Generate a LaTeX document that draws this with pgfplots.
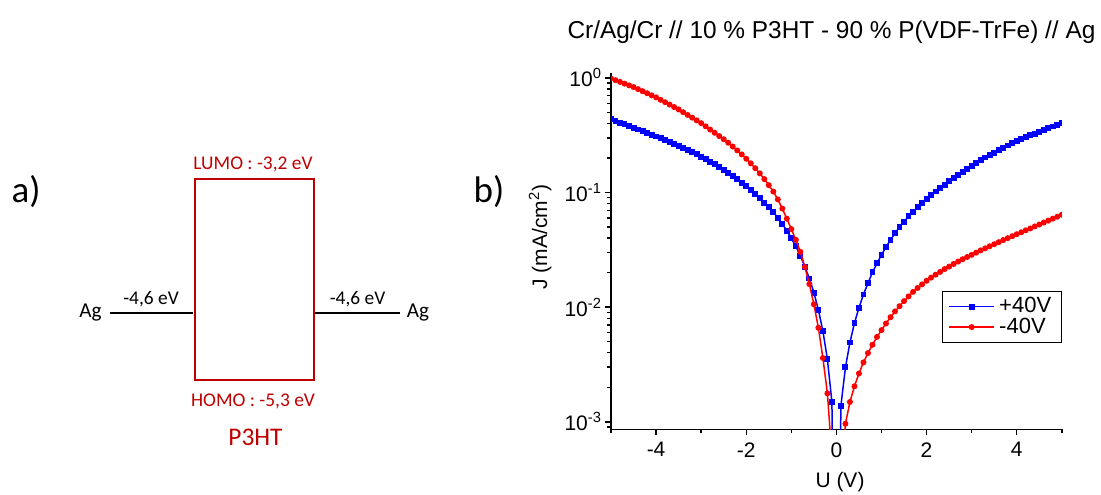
\documentclass[border=0pt]{standalone}
\usepackage{fontspec}
\setmainfont{Liberation Sans}
\newfontfamily\calibri{Carlito}
\usepackage{pgfplots}
\usepackage{pgfplotstable}
\pgfplotsset{compat=1.18}
\definecolor{darkred}{RGB}{192,0,0}

\pgfplotstableread{
x y
-5.0 0.437
-4.9 0.422
-4.8 0.407
-4.7 0.394
-4.6 0.380
-4.5 0.367
-4.4 0.355
-4.3 0.343
-4.2 0.331
-4.1 0.319
-4.0 0.308
-3.9 0.297
-3.8 0.286
-3.7 0.275
-3.6 0.265
-3.5 0.255
-3.4 0.245
-3.3 0.235
-3.2 0.225
-3.1 0.215
-3.0 0.205
-2.9 0.195
-2.8 0.186
-2.7 0.176
-2.6 0.167
-2.5 0.158
-2.4 0.149
-2.3 0.140
-2.2 0.131
-2.1 0.122
-2.0 0.114
-1.9 0.105
-1.8 0.0971
-1.7 0.0891
-1.6 0.0817
-1.5 0.0745
-1.4 0.0675
-1.3 0.0603
-1.2 0.0533
-1.1 0.0465
-1.0 0.0400
-0.9 0.0339
-0.8 0.0281
-0.7 0.0226
-0.6 0.0178
-0.5 0.0134
-0.4 0.00948
-0.3 0.00619
-0.2 0.00352
-0.1 0.00149
0.0 0.000001
0.1 0.00138
0.2 0.00298
0.3 0.00492
0.4 0.00726
0.5 0.00989
0.6 0.0129
0.7 0.0162
0.8 0.0201
0.9 0.0242
1.0 0.0286
1.1 0.0334
1.2 0.0386
1.3 0.0442
1.4 0.0499
1.5 0.0558
1.6 0.0619
1.7 0.0682
1.8 0.0746
1.9 0.0811
2.0 0.0877
2.1 0.0944
2.2 0.102
2.3 0.109
2.4 0.117
2.5 0.125
2.6 0.134
2.7 0.143
2.8 0.152
2.9 0.161
3.0 0.171
3.1 0.182
3.2 0.192
3.3 0.202
3.4 0.213
3.5 0.223
3.6 0.234
3.7 0.245
3.8 0.257
3.9 0.269
4.0 0.280
4.1 0.291
4.2 0.303
4.3 0.315
4.4 0.327
4.5 0.339
4.6 0.352
4.7 0.364
4.8 0.377
4.9 0.390
5.0 0.403
}\plus

\pgfplotstableread{
x y
-5.0 0.989
-4.9 0.955
-4.8 0.923
-4.7 0.891
-4.6 0.861
-4.5 0.832
-4.4 0.798
-4.3 0.766
-4.2 0.735
-4.1 0.705
-4.0 0.676
-3.9 0.644
-3.8 0.614
-3.7 0.585
-3.6 0.557
-3.5 0.531
-3.4 0.502
-3.3 0.475
-3.2 0.450
-3.1 0.426
-3.0 0.403
-2.9 0.378
-2.8 0.354
-2.7 0.332
-2.6 0.311
-2.5 0.292
-2.4 0.272
-2.3 0.252
-2.2 0.233
-2.1 0.215
-2.0 0.197
-1.9 0.180
-1.8 0.163
-1.7 0.147
-1.6 0.131
-1.5 0.116
-1.4 0.102
-1.3 0.0871
-1.2 0.0724
-1.1 0.0592
-1.0 0.0480
-0.9 0.0387
-0.8 0.0304
-0.7 0.0224
-0.6 0.0159
-0.5 0.0106
-0.4 0.00661
-0.3 0.00360
-0.2 0.00177
-0.1 0.0005
0.0 0.00003
0.1 0.00025
0.2 0.000962
0.3 0.00149
0.4 0.00204
0.5 0.00264
0.6 0.00330
0.7 0.00398
0.8 0.00470
0.9 0.00550
1.0 0.00631
1.1 0.00721
1.2 0.00817
1.3 0.00918
1.4 0.0102
1.5 0.0113
1.6 0.0124
1.7 0.0136
1.8 0.0147
1.9 0.0158
2.0 0.0170
2.1 0.0181
2.2 0.0192
2.3 0.0203
2.4 0.0215
2.5 0.0226
2.6 0.0238
2.7 0.0250
2.8 0.0262
2.9 0.0274
3.0 0.0286
3.1 0.0299
3.2 0.0313
3.3 0.0326
3.4 0.0340
3.5 0.0354
3.6 0.0369
3.7 0.0385
3.8 0.0400
3.9 0.0416
4.0 0.0433
4.1 0.0450
4.2 0.0468
4.3 0.0486
4.4 0.0506
4.5 0.0526
4.6 0.0547
4.7 0.0569
4.8 0.0592
4.9 0.0615
5.0 0.0640
}\minus

\begin{document}
\begin{tikzpicture}
\useasboundingbox (0pt,0pt) rectangle (550.5pt,247pt);
% ---- a) energy diagram (pixel coordinates) ----
\begin{axis}[at={(0pt,0pt)}, anchor=south west, scale only axis,
  width=250pt, height=247pt, xmin=0, xmax=500, ymin=0, ymax=494,
  y dir=reverse, hide axis, clip=false]
\addplot[black, line width=1.2pt] coordinates {(110,313) (193,313)};
\addplot[black, line width=1.2pt] coordinates {(315,313) (400,313)};
\addplot[darkred, line width=1pt, line join=miter, line cap=rect] coordinates {(195,179.3) (314,179.3) (314,380) (195,380) (195,179.3)};
\node[font=\calibri\fontsize{9.7}{11}\selectfont, text=darkred] at (axis cs:253,164) {LUMO : -3,2 eV};
\node[font=\calibri\fontsize{9.7}{11}\selectfont, text=darkred] at (axis cs:253,401) {HOMO : -5,3 eV};
\node[font=\calibri\fontsize{12.7}{14}\selectfont, text=darkred] at (axis cs:255.5,437) {P3HT};
\node[font=\calibri\fontsize{9.7}{11}\selectfont] at (axis cs:151,299) {-4,6 eV};
\node[font=\calibri\fontsize{9.7}{11}\selectfont] at (axis cs:357.5,299) {-4,6 eV};
\node[font=\calibri\fontsize{10.6}{12}\selectfont] at (axis cs:90.5,313) {Ag};
\node[font=\calibri\fontsize{10.6}{12}\selectfont] at (axis cs:418,313) {Ag};
\node[font=\calibri\fontsize{18.5}{20}\selectfont] at (axis cs:26,192) {a)};
\node[font=\calibri\fontsize{18.5}{20}\selectfont] at (axis cs:489,192) {b)};
\end{axis}
% ---- b) J-U curves ----
\begin{axis}[at={(305.5pt,32.35pt)}, anchor=south west, scale only axis,
  width=225.4pt, height=178.3pt,
  xmin=-5, xmax=5, ymode=log, ymin=8.6e-4, ymax=1.11,
  axis x line*=bottom, axis y line*=left,
  axis line style={line width=0.8pt, -},
  tick align=outside,
  major tick length=3pt, minor tick length=2pt,
  every tick/.style={black, line width=0.7pt},
  xtick={-4,-2,0,2,4}, xticklabels={-4,-2,0,2,4},
  minor xtick={-5,-3,-1,1,3,5},
  ytick={0.001,0.01,0.1,1},
  yticklabels={10\textsuperscript{-3},10\textsuperscript{-2},10\textsuperscript{-1},10\textsuperscript{0}},
  minor ytick={9e-4,2e-3,3e-3,4e-3,5e-3,6e-3,7e-3,8e-3,9e-3,2e-2,3e-2,4e-2,5e-2,6e-2,7e-2,8e-2,9e-2,2e-1,3e-1,4e-1,5e-1,6e-1,7e-1,8e-1,9e-1},
  tick label style={font=\fontsize{10.5}{12}\selectfont},
  yticklabel style={xshift=2pt},
  xlabel={U (V)}, ylabel={J (mA/cm\textsuperscript{2})},
  label style={font=\fontsize{10.5}{12}\selectfont},
  xlabel style={at={(axis description cs:0.508,-0.148)}, anchor=center},
  ylabel style={at={(axis description cs:-0.157,0.539)}, anchor=center},
  title={Cr/Ag/Cr // 10 \% P3HT - 90 \% P(VDF-TrFe) // Ag},
  title style={at={(axis description cs:0.489,1.061)}, anchor=base, font=\fontsize{12.2}{14}\selectfont},
  clip marker paths=true,
  legend style={at={(axis description cs:1,0.388)}, anchor=north east,
    draw=black, line width=0.6pt, fill=white,
    font=\fontsize{11}{12.8}\selectfont, inner xsep=3pt, inner ysep=1pt,
    row sep=-3pt},
  legend cell align=left,
  legend image code/.code={\draw[mark repeat=2,mark phase=2] plot coordinates {(0cm,0cm) (0.4cm,0cm) (0.8cm,0cm)};},
]
\addplot[blue, line width=0.75pt, mark=square*, mark size=1.1pt, mark options={solid}] table[x=x,y=y] {\plus};
\addlegendentry{+40V}
\addplot[red, line width=0.75pt, mark=*, mark size=1.1pt, mark options={solid}] table[x=x,y=y] {\minus};
\addlegendentry{-40V}
\end{axis}
\end{tikzpicture}
\end{document}
